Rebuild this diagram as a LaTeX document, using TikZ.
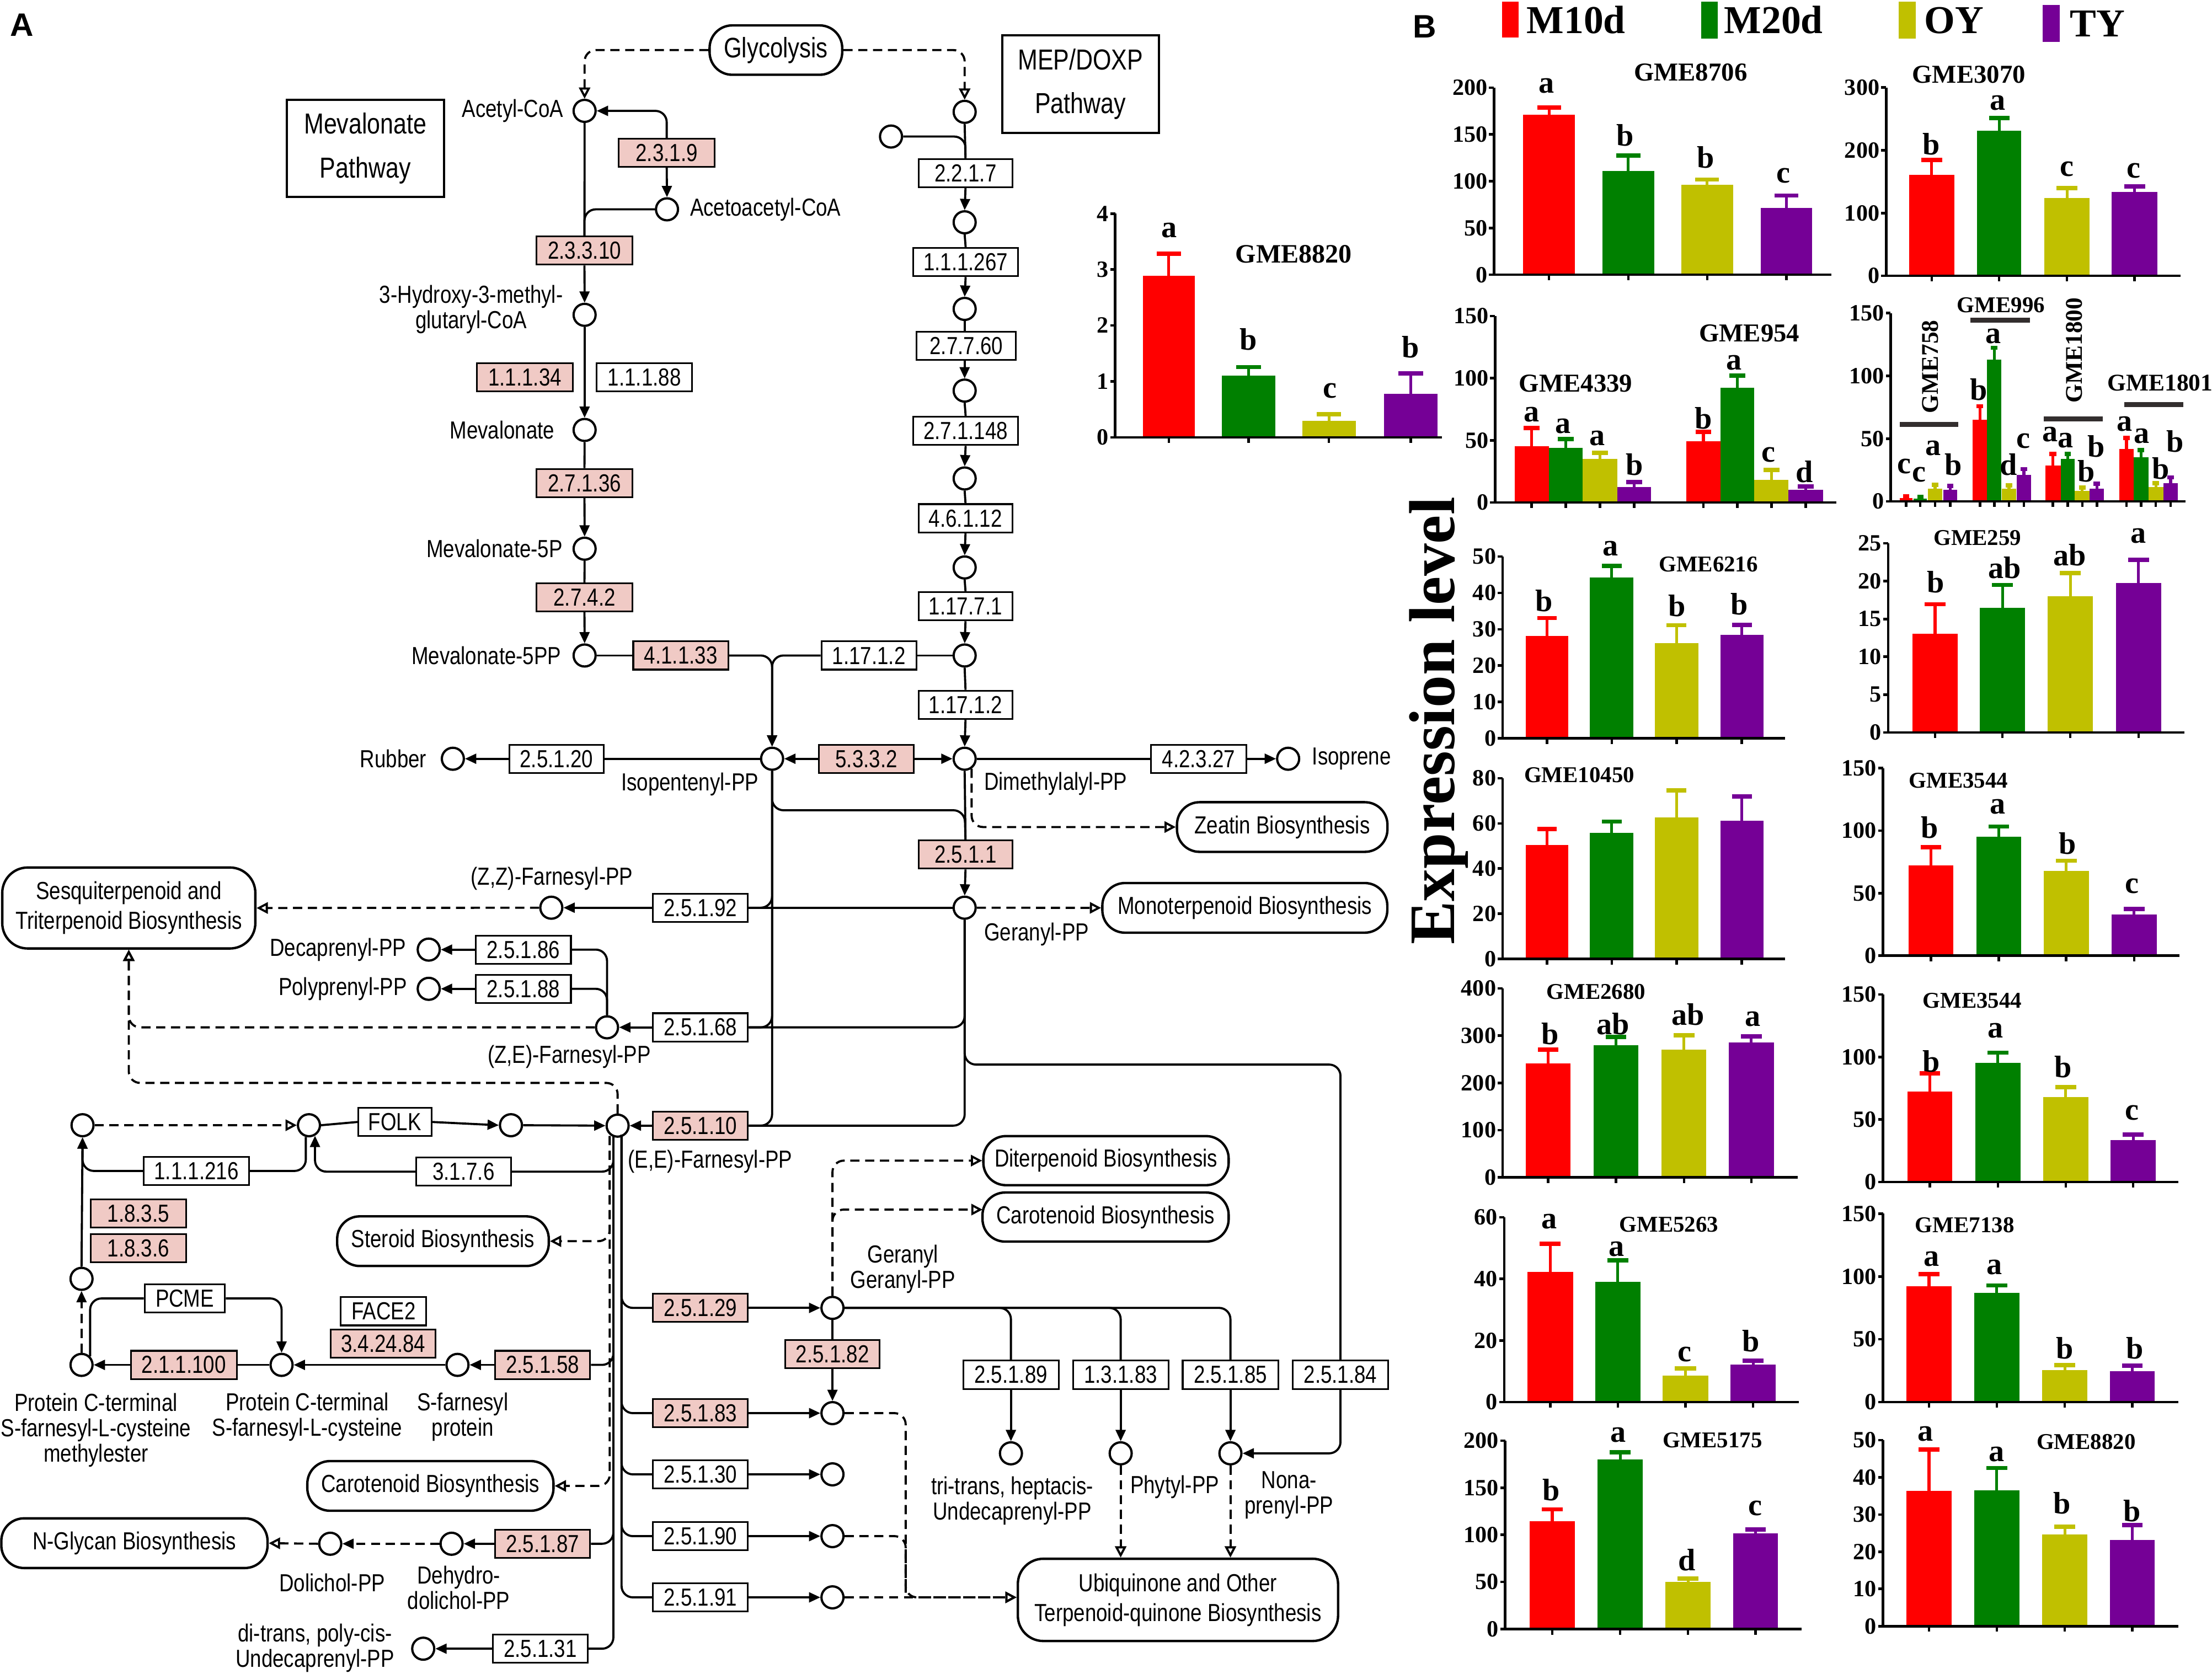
\documentclass[tikz,border=0pt]{standalone}
\usepackage{fontspec}
\setmainfont{Liberation Sans}[FakeStretch=0.82]
\newfontfamily\plainsans{Liberation Sans}
\newfontfamily\tnr{Liberation Serif}
\usetikzlibrary{arrows.meta,calc}
\definecolor{pinkc}{RGB}{240,202,197}
\definecolor{cR}{RGB}{255,0,0}
\definecolor{cG}{RGB}{0,128,0}
\definecolor{cY}{RGB}{192,192,0}
\definecolor{cP}{RGB}{117,0,150}
\definecolor{cK}{RGB}{51,46,46}
\newcommand\mfl{\fontsize{17.5}{18}\selectfont}
\newcommand\mflp{\fontsize{17.5}{21}\selectfont}
\newcommand\mfb{\fontsize{20.5}{31}\selectfont}
\newcommand\mfgly{\fontsize{20}{20}\selectfont}
\newcommand\mftk{\tnr\bfseries\fontsize{16.5}{17}\selectfont}
\newcommand\mflt{\tnr\bfseries\fontsize{22}{22}\selectfont}
\newcommand\msetc[2]{\def\yz{#1}\def\sc{#2}}
\newcommand\mbar[5]{%
  \fill[#5] (#1,\yz) rectangle (#2,{\yz-(#3)*\sc});
  \draw[#5,line width=2pt] ({(#1+#2)/2},{\yz-(#3)*\sc}) -- ({(#1+#2)/2},{\yz-(#4)*\sc});
  \draw[#5,line width=3pt] ({(#1+#2)/2-0.23*(#2-#1)},{\yz-(#4)*\sc}) -- ({(#1+#2)/2+0.23*(#2-#1)},{\yz-(#4)*\sc});
  \draw[axl] ({(#1+#2)/2},\yz) -- ++(0,4);
}
\newcommand\maxes[5]{%
  \foreach \t [count=\k] in {#5}{
    \draw[axl] (#2,{\yz-\t*\sc}) -- ++(-3.5,0);
    \node[tick,anchor=east] (#1t\k) at ({#2-4.5},{\yz-\t*\sc}) {\t};
  }
  \draw[axl] (#2,{\yz-(#4)*\sc}) -- (#2,\yz) -- (#3,\yz);
}
\newcommand\mlt[4]{\node[lett] (#1) at (#2,#3) {#4};}
\begin{document}
\begin{tikzpicture}[x=1pt,y=-1pt,
  met/.style={circle,draw,line width=1.6pt,minimum size=15.6pt,inner sep=0pt,fill=white},
  enz/.style={draw,line width=1.2pt,minimum height=20pt,minimum width=67.4pt,inner sep=0pt,font=\mfl},
  penz/.style={enz,fill=pinkc},
  pbox/.style={draw,line width=1.7pt,rounded corners=16pt,inner sep=0pt,font=\mflp,align=center,minimum height=35.2pt},
  sbox/.style={draw,line width=1.5pt,inner sep=0pt,font=\mfb,align=center},
  lbl/.style={font=\mfl,inner sep=0pt,align=center},
  ln/.style={line width=1.5pt},
  ar/.style={ln,-{Triangle[length=8pt,width=7pt]}},
  dl/.style={ln,dash pattern=on 6.5pt off 4pt},
  da/.style={dl,-{Triangle[open,length=8pt,width=8pt]}},
  dfa/.style={dl,-{Triangle[length=8pt,width=7pt]}},
  rc/.style={rounded corners=8pt},
  axl/.style={line width=1.8pt,black},
  tick/.style={font=\mftk,inner sep=0pt},
  lett/.style={font=\mflt,inner sep=0pt},
  ttl/.style={font=\tnr\bfseries\fontsize{16}{16}\selectfont,inner sep=0pt},
  ttlL/.style={font=\tnr\bfseries\fontsize{18.3}{18}\selectfont,inner sep=0pt},
  leg/.style={font=\tnr\bfseries\fontsize{28}{28}\selectfont,inner sep=0pt}]
\useasboundingbox (0,0) rectangle (1568,1186.4);
% ---------------- panel labels
\node[font=\plainsans\bfseries\fontsize{23}{23}\selectfont,inner sep=0pt] (labA) at (15.7,17.8) {A};
\node[font=\plainsans\bfseries\fontsize{23}{23}\selectfont,inner sep=0pt] (labB) at (1010,19) {B};
% ---------------- metabolites
\node[met] (AcCoA) at (414.4,78.6) {};
\node[met] (AcAc) at (472.8,148.4) {};
\node[met] (HMG) at (414.4,223.2) {};
\node[met] (Mev) at (414.4,304.8) {};
\node[met] (Mev5P) at (414.4,389) {};
\node[met] (Mev5PP) at (414.4,464.7) {};
\node[met] (MEP0) at (683.8,79.3) {};
\node[met] (MEPs) at (631.6,96.8) {};
\node[met] (M1) at (683.8,157.6) {};
\node[met] (M2) at (683.8,219) {};
\node[met] (M3) at (683.8,276.9) {};
\node[met] (M4) at (683.8,339.2) {};
\node[met] (M5) at (683.8,402.3) {};
\node[met] (HMBPP) at (683.8,464.7) {};
\node[met] (IPP) at (547.3,537.9) {};
\node[met] (DMAPP) at (683.8,537.9) {};
\node[met] (Rubber) at (321,537.9) {};
\node[met] (Isoprene) at (913.1,537.9) {};
\node[met] (GPP) at (683.8,643.5) {};
\node[met] (ZZ) at (390.8,643.5) {};
\node[met] (Deca) at (303.9,673.2) {};
\node[met] (Poly) at (303.9,701) {};
\node[met] (ZE) at (430.3,728.3) {};
\node[met] (EE) at (437.8,798) {};
\node[met] (F1) at (58.5,797.7) {};
\node[met] (F2) at (219,797.7) {};
\node[met] (F3) at (362.2,797.7) {};
\node[met] (C4) at (57.8,906.6) {};
\node[met] (C5) at (57.8,967.6) {};
\node[met] (C6) at (199.6,967.6) {};
\node[met] (SF) at (324.3,967.6) {};
\node[met] (DD) at (320.1,1094.4) {};
\node[met] (DP) at (234.1,1094.4) {};
\node[met] (UPP) at (300,1168.8) {};
\node[met] (GGPP) at (590.1,927.2) {};
\node[met] (C83) at (590.1,1001.8) {};
\node[met] (C30) at (590.1,1045.2) {};
\node[met] (C90) at (590.1,1089) {};
\node[met] (C91) at (590.1,1132.4) {};
\node[met] (TT) at (716.6,1030.3) {};
\node[met] (Phy) at (794.4,1030.3) {};
\node[met] (Nona) at (872.2,1030.3) {};
% ---------------- enzymes
\node[penz,minimum width=67.8pt] (e2319) at (472.6,108.3) {2.3.1.9};
\node[penz,minimum width=67.8pt] (e23310) at (414.3,177.6) {2.3.3.10};
\node[penz,minimum width=67.8pt] (e11134) at (372.1,267.4) {1.1.1.34};
\node[enz,minimum width=67.8pt] (e11188) at (456.8,267.4) {1.1.1.88};
\node[penz,minimum width=67.8pt] (e27136) at (414.3,342.4) {2.7.1.36};
\node[penz,minimum width=67.8pt] (e2742) at (414.3,423.5) {2.7.4.2};
\node[penz] (e41133) at (482.6,464.7) {4.1.1.33};
\node[enz,minimum width=66.5pt] (e2217) at (684.4,122.7) {2.2.1.7};
\node[enz,minimum width=74.6pt] (e111267) at (684.5,185.8) {1.1.1.267};
\node[enz,minimum width=70.4pt] (e27760) at (685,245.3) {2.7.7.60};
\node[enz,minimum width=74.6pt] (e271148) at (684.5,305.5) {2.7.1.148};
\node[enz,minimum width=66.5pt] (e46112) at (684.4,367.4) {4.6.1.12};
\node[enz,minimum width=66.5pt] (e11771) at (684.4,429.8) {1.17.7.1};
\node[enz,minimum width=67.2pt] (e117h) at (615.9,464.7) {1.17.1.2};
\node[enz,minimum width=66.5pt] (e117v) at (684.4,499.6) {1.17.1.2};
\node[penz] (e5332) at (614.1,537.9) {5.3.3.2};
\node[enz,minimum width=67.8pt] (e42327) at (849.7,537.9) {4.2.3.27};
\node[enz,minimum width=67pt] (e25120) at (394.5,537.9) {2.5.1.20};
\node[penz,minimum width=66.5pt] (e2511) at (684.4,605.8) {2.5.1.1};
\node[enz] (e25192) at (496.5,643.5) {2.5.1.92};
\node[enz] (e25186) at (371,673.2) {2.5.1.86};
\node[enz] (e25188) at (371,701) {2.5.1.88};
\node[enz] (e25168) at (496.5,728.3) {2.5.1.68};
\node[penz] (e2510) at (496.5,798) {2.5.1.10};
\node[enz,minimum width=51.9pt] (FOLK) at (279.9,795.4) {FOLK};
\node[enz,minimum width=67.1pt] (e3176) at (328.6,830.6) {3.1.7.6};
\node[enz,minimum width=74.7pt] (e111216) at (139.2,830.1) {1.1.1.216};
\node[penz] (e1835) at (98.1,860.3) {1.8.3.5};
\node[penz] (e1836) at (98.1,885) {1.8.3.6};
\node[enz,minimum width=57pt] (PCME) at (131,920.5) {PCME};
\node[enz,minimum width=60.6pt] (FACE2) at (271.9,929.6) {FACE2};
\node[penz,minimum width=74.2pt] (e342484) at (271.6,952.4) {3.4.24.84};
\node[penz,minimum width=75.2pt] (e211100) at (130.3,967.6) {2.1.1.100};
\node[penz] (e25158) at (384.6,967.6) {2.5.1.58};
\node[penz] (e25187) at (384.6,1094.4) {2.5.1.87};
\node[enz] (e25131) at (383,1168.8) {2.5.1.31};
\node[penz] (e25129) at (496.5,927.2) {2.5.1.29};
\node[penz] (e25183) at (496.5,1001.8) {2.5.1.83};
\node[enz] (e25130) at (496.5,1045.2) {2.5.1.30};
\node[enz] (e25190) at (496.5,1089) {2.5.1.90};
\node[enz] (e25191) at (496.5,1132.4) {2.5.1.91};
\node[penz,minimum width=67.1pt] (e25182) at (590.1,959.9) {2.5.1.82};
\node[enz,minimum width=67.7pt] (e25189) at (716.6,974.6) {2.5.1.89};
\node[enz,minimum width=67.7pt] (e13183) at (794.4,974.6) {1.3.1.83};
\node[enz,minimum width=67.7pt] (e25185) at (872.2,974.6) {2.5.1.85};
\node[enz,minimum width=67.7pt] (e25184) at (950.2,974.6) {2.5.1.84};
% ---------------- pathway boxes
\node[sbox,minimum width=111.3pt,minimum height=69pt] (MevPath) at (259,105.2) {Mevalonate\\Pathway};
\node[sbox,minimum width=111pt,minimum height=69.4pt] (MEPPath) at (765.9,59.6) {MEP/DOXP\\Pathway};
\node[pbox,font=\mfgly,minimum width=94pt,minimum height=35pt] (Gly) at (550,35.5) {Glycolysis};
\node[pbox,minimum width=149.2pt] (Zeatin) at (908.9,586.3) {Zeatin Biosynthesis};
\node[pbox,minimum width=202pt] (Mono) at (882.4,643.6) {Monoterpenoid Biosynthesis};
\node[pbox,rounded corners=18pt,minimum width=179.4pt,minimum height=57.4pt] (Sesq) at (91.3,643.7) {Sesquiterpenoid and\\Triterpenoid Biosynthesis};
\node[pbox,minimum width=150pt] (Steroid) at (314,879.9) {Steroid Biosynthesis};
\node[pbox,minimum width=174.5pt] (CaroL) at (305.1,1053.4) {Carotenoid Biosynthesis};
\node[pbox,minimum width=188.7pt] (NGly) at (95.3,1094) {N-Glycan Biosynthesis};
\node[pbox,minimum width=173.9pt,minimum height=34.8pt] (Diterp) at (784,822.8) {Diterpenoid Biosynthesis};
\node[pbox,minimum width=174.5pt,minimum height=34.8pt] (CaroR) at (783.7,862.8) {Carotenoid Biosynthesis};
\node[pbox,rounded corners=18pt,minimum width=227pt,minimum height=58.3pt] (Ubi) at (835,1134.2) {Ubiquinone and Other\\Terpenoid-quinone Biosynthesis};
% ---------------- metabolite labels
\node[lbl,anchor=east] (lAcCoA) at (399.5,78.6) {Acetyl-CoA};
\node[lbl,anchor=west] (lAcAc) at (489,148.4) {Acetoacetyl-CoA};
\node[lbl] (lHMG) at (334,219.5) {3-Hydroxy-3-methyl-\\glutaryl-CoA};
\node[lbl,anchor=east] (lMev) at (393.3,304.8) {Mevalonate};
\node[lbl,anchor=east] (lMev5P) at (399,389) {Mevalonate-5P};
\node[lbl,anchor=east] (lMev5PP) at (398,464.7) {Mevalonate-5PP};
\node[lbl,anchor=east] (lRub) at (302.5,537.9) {Rubber};
\node[lbl] (lIPP) at (489,556) {Isopentenyl-PP};
\node[lbl,anchor=west] (lDMAPP) at (697.5,555.8) {Dimethylalyl-PP};
\node[lbl,anchor=west] (lIso) at (930,537.9) {Isoprene};
\node[lbl,anchor=west] (lGPP) at (697.5,662.3) {Geranyl-PP};
\node[lbl] (lZZ) at (391.2,623) {(Z,Z)-Farnesyl-PP};
\node[lbl,anchor=east] (lDeca) at (288,673.2) {Decaprenyl-PP};
\node[lbl,anchor=east] (lPoly) at (288.6,701) {Polyprenyl-PP};
\node[lbl] (lZE) at (403.5,749) {(Z,E)-Farnesyl-PP};
\node[lbl,anchor=west] (lEE) at (445,823.4) {(E,E)-Farnesyl-PP};
\node[lbl] (lC5) at (68,1014) {Protein C-terminal\\S-farnesyl-L-cysteine\\methylester};
\node[lbl] (lC6) at (217.8,1004.5) {Protein C-terminal\\S-farnesyl-L-cysteine};
\node[lbl] (lSF) at (328,1004.5) {S-farnesyl\\protein};
\node[lbl] (lDP) at (235.5,1122.2) {Dolichol-PP};
\node[lbl] (lDD) at (325.2,1125.5) {Dehydro-\\dolichol-PP};
\node[lbl] (lUPP) at (223.3,1168.5) {di-trans, poly-cis-\\Undecaprenyl-PP};
\node[lbl] (lGGPP) at (640,899.8) {Geranyl\\Geranyl-PP};
\node[lbl] (lTT) at (717.5,1064) {tri-trans, heptacis-\\Undecaprenyl-PP};
\node[lbl] (lPhy) at (832.7,1054.3) {Phytyl-PP};
\node[lbl] (lNona) at (913.7,1060) {Nona-\\prenyl-PP};
% ---------------- junction coordinates
\coordinate (j2511) at (683.8,574.4);
\coordinate (j84) at (950.2,754.7);
\coordinate (jS) at (91.3,767.7);
\coordinate (vL) at (434.8,805);
\coordinate (vR) at (440.6,804.5);
\coordinate (vD) at (432.2,805.3);
\coordinate (jC) at (696.5,857.5);
\coordinate (jU) at (642,1132.4);
% ---------------- connectors: mevalonate
\draw[da,rc] (Gly.west) -| (AcCoA.north);
\draw[da,rc] (Gly.east) -| (MEP0.north);
\draw[ar,rc] (e2319.north) |- (AcCoA.east);
\draw[ar] (e2319.south) -- (AcAc.north);
\draw[ln] (AcCoA.south) -- (e23310.north);
\draw[ln,rc] (AcAc.west) -| (e23310.north);
\draw[ar] (e23310.south) -- (HMG.north);
\draw[ar] (HMG.south) -- (Mev.north);
\draw[ln] (Mev.south) -- (e27136.north);
\draw[ar] (e27136.south) -- (Mev5P.north);
\draw[ln] (Mev5P.south) -- (e2742.north);
\draw[ar] (e2742.south) -- (Mev5PP.north);
\draw[ln] (Mev5PP.east) -- (e41133.west);
\draw[ar,rc] (e41133.east) -| (IPP.north);
% MEP
\draw[ln] (MEP0.south) -- (e2217.north);
\draw[ln,rc] (MEPs.east) -| (e2217.north);
\draw[ar] (e2217.south) -- (M1.north);
\draw[ln] (M1.south) -- (e111267.north);
\draw[ar] (e111267.south) -- (M2.north);
\draw[ln] (M2.south) -- (M2.south |- e27760.north);
\draw[ar] (M3.north |- e27760.south) -- (M3.north);
\draw[ln] (M3.south) -- (e271148.north);
\draw[ar] (e271148.south) -- (M4.north);
\draw[ln] (M4.south) -- (e46112.north);
\draw[ar] (e46112.south) -- (M5.north);
\draw[ln] (M5.south) -- (e11771.north);
\draw[ar] (e11771.south) -- (HMBPP.north);
\draw[ln] (HMBPP.west) -- (e117h.east);
\draw[ar,rc] (e117h.west) -| (IPP.north);
\draw[ln] (HMBPP.south) -- (e117v.north);
\draw[ar] (e117v.south) -- (DMAPP.north);
% IPP / DMAPP
\draw[ar] (e5332.west) -- (IPP.east);
\draw[ar] (e5332.east) -- (DMAPP.west);
\draw[ln] (IPP.west) -- (e25120.east);
\draw[ar] (e25120.west) -- (Rubber.east);
\draw[ln] (DMAPP.east) -- (e42327.west);
\draw[ar] (e42327.east) -- (Isoprene.west);
\draw[da,rc] (DMAPP.-55) |- (Zeatin.west);
\draw[ln] (DMAPP.south) -- (e2511.north);
\draw[ln,rc] (IPP.south) |- (j2511) -- (e2511.north);
\draw[ar] (e2511.south) -- (GPP.north);
\draw[da] (GPP.east) -- (Mono.west);
% C15 / longer chains
\draw[ln] (GPP.west) -- (e25192.east);
\draw[ln,rc] (IPP.south) |- (e25192.east);
\draw[ar] (e25192.west) -- (ZZ.east);
\draw[da] (ZZ.west) -- (Sesq.east);
\draw[ln,rc] (GPP.south) |- (e25168.east);
\draw[ln,rc] (IPP.south) |- (e25168.east);
\draw[ar] (e25168.west) -- (ZE.east);
\draw[ln,rc] (ZE.north) |- (e25186.east);
\draw[ln,rc] (ZE.north) |- (e25188.east);
\draw[ar] (e25186.west) -- (Deca.east);
\draw[ar] (e25188.west) -- (Poly.east);
\draw[da,rc] (ZE.west) -| (Sesq.south);
\draw[da,rc] (EE.north) |- (jS) -- (Sesq.south);
\draw[ln,rc] (IPP.south) |- (e2510.east);
\draw[ln,rc] (GPP.south) |- (e2510.east);
\draw[ar] (e2510.west) -- (EE.east);
\draw[ln,rc] (GPP.south) |- (j84) -- (e25184.north);
% FOLK row and protein farnesylation
\draw[da] (F1.east) -- (F2.west);
\draw[ln] (F2.east) -- (FOLK.west);
\draw[ar] (FOLK.east) -- (F3.west);
\draw[ar] (F3.east) -- (EE.west);
\draw[ln,rc] (vL) |- (e3176.east);
\draw[ar,rc] (e3176.west) -| (F2.-60);
\draw[ln,rc] (F2.-105) |- (e111216.east);
\draw[ar,rc] (e111216.west) -| (F1.south);
\draw[ar] (C4.north) -- (F1.south);
\draw[dfa] (C5.north) -- (C4.south);
\draw[ln,rc] (C5.45) |- (PCME.west);
\draw[ar,rc] (PCME.east) -| (C6.north);
\draw[ln] (C6.west) -- (e211100.east);
\draw[ar] (e211100.west) -- (C5.east);
\draw[ar] (SF.west) -- (C6.east);
\draw[ln,rc] (vL) |- (e25158.east);
\draw[ar] (e25158.west) -- (SF.east);
\draw[ln,rc] (vL) |- (e25187.east);
\draw[ar] (e25187.west) -- (DD.east);
\draw[dfa] (DD.west) -- (DP.east);
\draw[da] (DP.west) -- (NGly.east);
\draw[ln,rc] (vL) |- (e25131.east);
\draw[ar] (e25131.west) -- (UPP.east);
\draw[da,rc] (vD) |- (Steroid.east);
\draw[da,rc] (vD) |- (CaroL.east);
% right branches
\draw[ln,rc] (vR) |- (e25129.west);
\draw[ln,rc] (vR) |- (e25183.west);
\draw[ln,rc] (vR) |- (e25130.west);
\draw[ln,rc] (vR) |- (e25190.west);
\draw[ln,rc] (vR) |- (e25191.west);
\draw[ar] (e25129.east) -- (GGPP.west);
\draw[ar] (e25183.east) -- (C83.west);
\draw[ar] (e25130.east) -- (C30.west);
\draw[ar] (e25190.east) -- (C90.west);
\draw[ar] (e25191.east) -- (C91.west);
\draw[ln] (GGPP.south) -- (e25182.north);
\draw[ar] (e25182.south) -- (C83.north);
\draw[da,rc] (GGPP.north) |- (Diterp.west);
\draw[da,rc] (GGPP.north) |- (jC);
\draw[ln,rc] (GGPP.east) -| (e25189.north);
\draw[ln,rc] (GGPP.east) -| (e13183.north);
\draw[ln,rc] (GGPP.east) -| (e25185.north);
\draw[ar] (e25189.south) -- (TT.north);
\draw[ar] (e13183.south) -- (Phy.north);
\draw[ar] (e25185.south) -- (Nona.north);
\draw[ar,rc] (e25184.south) |- (Nona.east);
\draw[da] (Phy.south) -- (Phy |- Ubi.north);
\draw[da] (Nona.south) -- (Nona |- Ubi.north);
\draw[da,rc] (C83.east) -| (jU) -- (C91 -| Ubi.west);
\draw[dl,rc] (C90.east) -| (jU);
\draw[da] (C91.east) -- (C91 -| Ubi.west);
% ================= inset chart GME8820 (panel A)
\msetc{310}{39.65}
\mbar{810}{847}{2.89}{3.28}{cR}
\mbar{866}{904}{1.1}{1.256}{cG}
\mbar{923}{961}{0.29}{0.41}{cY}
\mbar{981}{1019}{0.78}{1.14}{cP}
\maxes{q}{790.5}{1022}{4}{0,1,2,3,4}
\node[ttlL,font=\tnr\bfseries\fontsize{18.8}{19}\selectfont] (tq) at (917,180) {GME8820};
\mlt{qa}{828.8}{163.4}{a}\mlt{qb}{885}{240.6}{b}\mlt{qc}{942.6}{277}{c}\mlt{qd}{999.7}{246}{b}
% ================= panel B legend
\fill[cR] (1064.6,1) rectangle (1076.3,26.6);
\node[leg,anchor=base west] (legR) at (1082,23.7) {M10d};
\fill[cG] (1206,1.2) rectangle (1217.5,27.3);
\node[leg,anchor=base west] (legG) at (1222,23.7) {M20d};
\fill[cY] (1346,1.2) rectangle (1358,27.3);
\node[leg,anchor=base west] (legY) at (1364,23.7) {OY};
\fill[cP] (1448,3.6) rectangle (1460,29.6);
\node[leg,anchor=base west] (legP) at (1467,26) {TY};
\node[font=\tnr\bfseries\fontsize{46}{46}\selectfont,rotate=90,anchor=base,inner sep=0pt] (ylab) at (1031,511) {Expression level};
% GME8706
\msetc{194.8}{0.6635}
\mbar{1079.7}{1116.3}{171}{178.6}{cR}
\mbar{1135.8}{1172.7}{111}{127.5}{cG}
\mbar{1191.9}{1228.4}{96}{101.7}{cY}
\mbar{1248}{1284.5}{71.7}{84.6}{cP}
\maxes{a}{1059}{1298}{200}{0,50,100,150,200}
\node[ttlL] (ta) at (1198.4,51.4) {GME8706};
\mlt{aa}{1096.4}{60.9}{a}\mlt{ab}{1152}{96}{b}\mlt{ac}{1208.9}{111.4}{b}\mlt{ad}{1264}{124.4}{c}
% GME3070
\msetc{195.5}{0.4447}
\mbar{1353.2}{1385.4}{160.8}{184.8}{cR}
\mbar{1401.4}{1432.8}{231}{251.5}{cG}
\mbar{1449.1}{1481.3}{123.6}{139.6}{cY}
\mbar{1496.9}{1529.4}{133.8}{142.3}{cP}
\maxes{b}{1337}{1545.7}{300}{0,100,200,300}
\node[ttlL] (tb) at (1395.6,53) {GME3070};
\mlt{ba}{1369.2}{102}{b}\mlt{bb}{1416.2}{73}{a}\mlt{bc}{1465}{119.7}{c}\mlt{bd}{1512.4}{120.9}{c}
% GME4339 / GME954
\msetc{356.2}{0.8813}
\mbar{1073.6}{1097.8}{45.2}{60}{cR}
\mbar{1097.8}{1122}{43.8}{51}{cG}
\mbar{1122}{1146.3}{35}{39.8}{cY}
\mbar{1146.3}{1170.5}{12.4}{16.4}{cP}
\mbar{1195.5}{1219.4}{49.2}{56.7}{cR}
\mbar{1219.4}{1243.6}{92.2}{102}{cG}
\mbar{1243.6}{1267.8}{18.3}{26.3}{cY}
\mbar{1267.8}{1292.4}{10.2}{12.9}{cP}
\maxes{c}{1059.8}{1301.5}{150}{0,50,100,150}
\node[ttlL] (tc1) at (1117,272) {GME4339};
\node[ttlL] (tc2) at (1240,236.3) {GME954};
\mlt{ca}{1085.5}{293.9}{a}\mlt{cb}{1108}{302.2}{a}\mlt{cc}{1132.2}{310.5}{a}\mlt{cd}{1158.6}{329.4}{b}
\mlt{ce}{1207.4}{296.3}{b}\mlt{cf}{1229.1}{257.1}{a}\mlt{cg}{1253.7}{322.3}{c}\mlt{ch}{1279}{334.6}{d}
% GME758 / 996 / 1800 / 1801
\msetc{355.5}{0.89}
\mbar{1346.7}{1355.7}{2.7}{4}{cR}
\mbar{1356.5}{1365.9}{2.3}{3.6}{cG}
\mbar{1366.6}{1376.8}{10.1}{13.3}{cY}
\mbar{1377.5}{1387.2}{9.3}{12.5}{cP}
\mbar{1398.4}{1408.6}{65.3}{75.9}{cR}
\mbar{1408.6}{1418.7}{113.2}{122.5}{cG}
\mbar{1419}{1429.2}{10.1}{12.8}{cY}
\mbar{1429.6}{1439.7}{21.3}{25.8}{cP}
\mbar{1449.8}{1460.7}{28.8}{38}{cR}
\mbar{1460.7}{1470.8}{33.8}{38}{cG}
\mbar{1470.8}{1481.3}{8.5}{11}{cY}
\mbar{1481.3}{1491.4}{10.1}{14.2}{cP}
\mbar{1502.3}{1512.4}{41.8}{50.6}{cR}
\mbar{1512.4}{1522.9}{35.4}{40.8}{cG}
\mbar{1522.9}{1533.4}{11.5}{14.7}{cY}
\mbar{1533.4}{1543.9}{14.6}{19.2}{cP}
\maxes{d}{1340.2}{1549.3}{150}{0,50,100,150}
\draw[cK,line width=3.5pt] (1346.7,301) -- (1388.3,301);
\draw[cK,line width=3.5pt] (1396.6,227) -- (1439,227);
\draw[cK,line width=3.5pt] (1448.7,297) -- (1490.4,297);
\draw[cK,line width=3.5pt] (1506,286.8) -- (1547.5,286.8);
\node[ttl,font=\tnr\bfseries\fontsize{17}{17}\selectfont,rotate=90] (td1) at (1368.4,260) {GME758};
\node[ttl,font=\tnr\bfseries\fontsize{16}{16}\selectfont] (td2) at (1418.4,216.1) {GME996};
\node[ttl,font=\tnr\bfseries\fontsize{17}{17}\selectfont,rotate=90] (td3) at (1470.2,248.3) {GME1800};
\node[ttl,font=\tnr\bfseries\fontsize{17}{17}\selectfont] (td4) at (1531.2,271.4) {GME1801};
\mlt{da}{1349.6}{330.6}{c}\mlt{db}{1360.5}{336.5}{c}\mlt{dc}{1370.2}{317.6}{a}\mlt{dd}{1384.7}{329.4}{b}
\mlt{de}{1402.8}{276.1}{b}\mlt{df}{1413}{238.2}{a}\mlt{dg}{1423.8}{329.4}{d}\mlt{dh}{1434.3}{312.8}{c}
\mlt{di}{1453.4}{308.1}{a}\mlt{dj}{1464.3}{312.4}{a}\mlt{dk}{1479}{334}{b}\mlt{dl}{1486}{316.5}{b}
\mlt{dm}{1506}{300.5}{a}\mlt{dn}{1518}{309}{a}\mlt{do}{1531.5}{332}{b}\mlt{dp}{1542}{313}{b}
% GME6216
\msetc{523.3}{2.574}
\mbar{1081.5}{1111.5}{28.1}{33.1}{cR}
\mbar{1127.1}{1157.9}{44.3}{47.4}{cG}
\mbar{1173.1}{1203.8}{26.1}{31.1}{cY}
\mbar{1219.4}{1250.1}{28.4}{31.2}{cP}
\maxes{e}{1065.2}{1265.3}{50}{0,10,20,30,40,50}
\node[ttl] (te) at (1211,400.2) {GME6216};
\mlt{ea}{1094.5}{426}{b}\mlt{eb}{1141.6}{389}{a}\mlt{ec}{1188.6}{429.4}{b}\mlt{ed}{1232.8}{428.3}{b}
% GME259
\msetc{519.2}{5.36}
\mbar{1355.8}{1387.6}{13.06}{16.96}{cR}
\mbar{1403.5}{1435.4}{16.46}{19.5}{cG}
\mbar{1451.6}{1483.5}{18}{21.06}{cY}
\mbar{1499.8}{1532}{19.76}{22.8}{cP}
\maxes{f}{1338.4}{1548.3}{25}{0,5,10,15,20,25}
\node[ttl] (tf) at (1401.7,381.2) {GME259};
\mlt{fa}{1372}{412.6}{b}\mlt{fb}{1420.9}{402.5}{ab}\mlt{fc}{1467.2}{393.5}{ab}\mlt{fd}{1515.7}{380}{a}
% GME10450
\msetc{679.7}{1.599}
\mbar{1081.5}{1111.5}{50.5}{57.5}{cR}
\mbar{1127.1}{1157.9}{55.9}{60.8}{cG}
\mbar{1173.1}{1203.8}{62.7}{74.7}{cY}
\mbar{1219.4}{1250.1}{61.3}{71.9}{cP}
\maxes{g}{1065.2}{1265.3}{80}{0,20,40,60,80}
\node[ttl] (tg) at (1119.5,549.5) {GME10450};
% GME3544 (1)
\msetc{677.5}{0.886}
\mbar{1352.9}{1384.7}{72.2}{86.7}{cR}
\mbar{1401}{1432.8}{95}{103.4}{cG}
\mbar{1448.7}{1480.6}{67.6}{76}{cY}
\mbar{1496.9}{1528.7}{33}{37.5}{cP}
\maxes{h}{1334.8}{1545}{150}{0,50,100,150}
\node[ttl] (th) at (1388.3,553.4) {GME3544};
\mlt{ha}{1367.7}{586.6}{b}\mlt{hb}{1416.2}{572}{a}\mlt{hc}{1465.4}{597.8}{b}\mlt{hd}{1511.3}{628.1}{c}
% GME2680
\msetc{834.7}{0.335}
\mbar{1081.5}{1113.4}{241.5}{270.5}{cR}
\mbar{1129.6}{1161.5}{280.3}{297.3}{cG}
\mbar{1177.8}{1209.6}{270.5}{300.6}{cY}
\mbar{1225.5}{1257.4}{285.7}{298.8}{cP}
\maxes{j}{1065.2}{1274.4}{400}{0,100,200,300,400}
\node[ttl] (tj) at (1131.4,703) {GME2680};
\mlt{ja}{1098.9}{733}{b}\mlt{jb}{1143.4}{725.7}{ab}\mlt{jc}{1196.6}{719.3}{ab}\mlt{jd}{1242.5}{722.5}{a}
% GME3544 (2)
\msetc{837.9}{0.886}
\mbar{1352.1}{1384}{72.5}{86.9}{cR}
\mbar{1400.3}{1432.1}{95.1}{103.4}{cG}
\mbar{1448.4}{1480.2}{67.7}{76}{cY}
\mbar{1496.2}{1528}{33.3}{37.8}{cP}
\maxes{k}{1334.8}{1544}{150}{0,50,100,150}
\node[ttl] (tk) at (1398.1,709.5) {GME3544};
\mlt{ka}{1369.1}{752.5}{b}\mlt{kb}{1414.7}{730.6}{a}\mlt{kc}{1462.5}{756.5}{b}\mlt{kd}{1511.3}{789}{c}
% GME5263
\msetc{994}{2.183}
\mbar{1082.7}{1115.1}{42.2}{51.4}{cR}
\mbar{1130.7}{1162.9}{39}{46}{cG}
\mbar{1178.5}{1211}{8.7}{10.9}{cY}
\mbar{1226.6}{1258.8}{12.2}{13.4}{cP}
\maxes{m}{1066.3}{1275.1}{60}{0,20,40,60}
\node[ttl] (tm) at (1183,868) {GME5263};
\mlt{ma}{1098.2}{866}{a}\mlt{mb}{1146}{885.5}{a}\mlt{mc}{1194}{960}{c}\mlt{md}{1241}{950.6}{b}
% GME7138
\msetc{994}{0.891}
\mbar{1351.4}{1383.4}{92.3}{101.9}{cR}
\mbar{1399.4}{1431.5}{87}{92.8}{cG}
\mbar{1447.6}{1479.6}{25.7}{29.5}{cY}
\mbar{1495.7}{1527.4}{24.4}{29}{cP}
\maxes{n}{1334.8}{1544}{150}{0,50,100,150}
\node[ttl] (tn) at (1392.7,868.4) {GME7138};
\mlt{na}{1369.1}{892.7}{a}\mlt{nb}{1413.6}{898.4}{a}\mlt{nc}{1463.6}{955.7}{b}\mlt{nd}{1513.1}{955.7}{b}
% GME5175
\msetc{1154.8}{0.667}
\mbar{1084.4}{1116.2}{114.4}{127.1}{cR}
\mbar{1132.5}{1164.4}{180.4}{187.7}{cG}
\mbar{1180.6}{1212.5}{49.9}{53.7}{cY}
\mbar{1228.4}{1260.3}{101.5}{105.8}{cP}
\maxes{o}{1067}{1276.9}{200}{0,50,100,150,200}
\node[ttl] (to) at (1214,1021.1) {GME5175};
\mlt{oa}{1099.6}{1056.4}{b}\mlt{ob}{1147}{1017.1}{a}\mlt{oc}{1195.9}{1105.8}{d}\mlt{od}{1244.3}{1069.2}{c}
% GME8820 (B)
\msetc{1152.8}{2.638}
\mbar{1351.4}{1383.4}{36.4}{47.5}{cR}
\mbar{1399.4}{1431.5}{36.5}{42.5}{cG}
\mbar{1447.6}{1479.6}{24.7}{26.7}{cY}
\mbar{1495.7}{1527.4}{23.1}{27.2}{cP}
\maxes{p}{1334.8}{1544}{50}{0,10,20,30,40,50}
\node[ttl] (tp) at (1478.8,1022.3) {GME8820};
\mlt{pa}{1364.8}{1016.3}{a}\mlt{pb}{1415.5}{1030.8}{a}\mlt{pc}{1461.8}{1065.8}{b}\mlt{pd}{1511.3}{1070.9}{b}
\end{tikzpicture}
\end{document}
